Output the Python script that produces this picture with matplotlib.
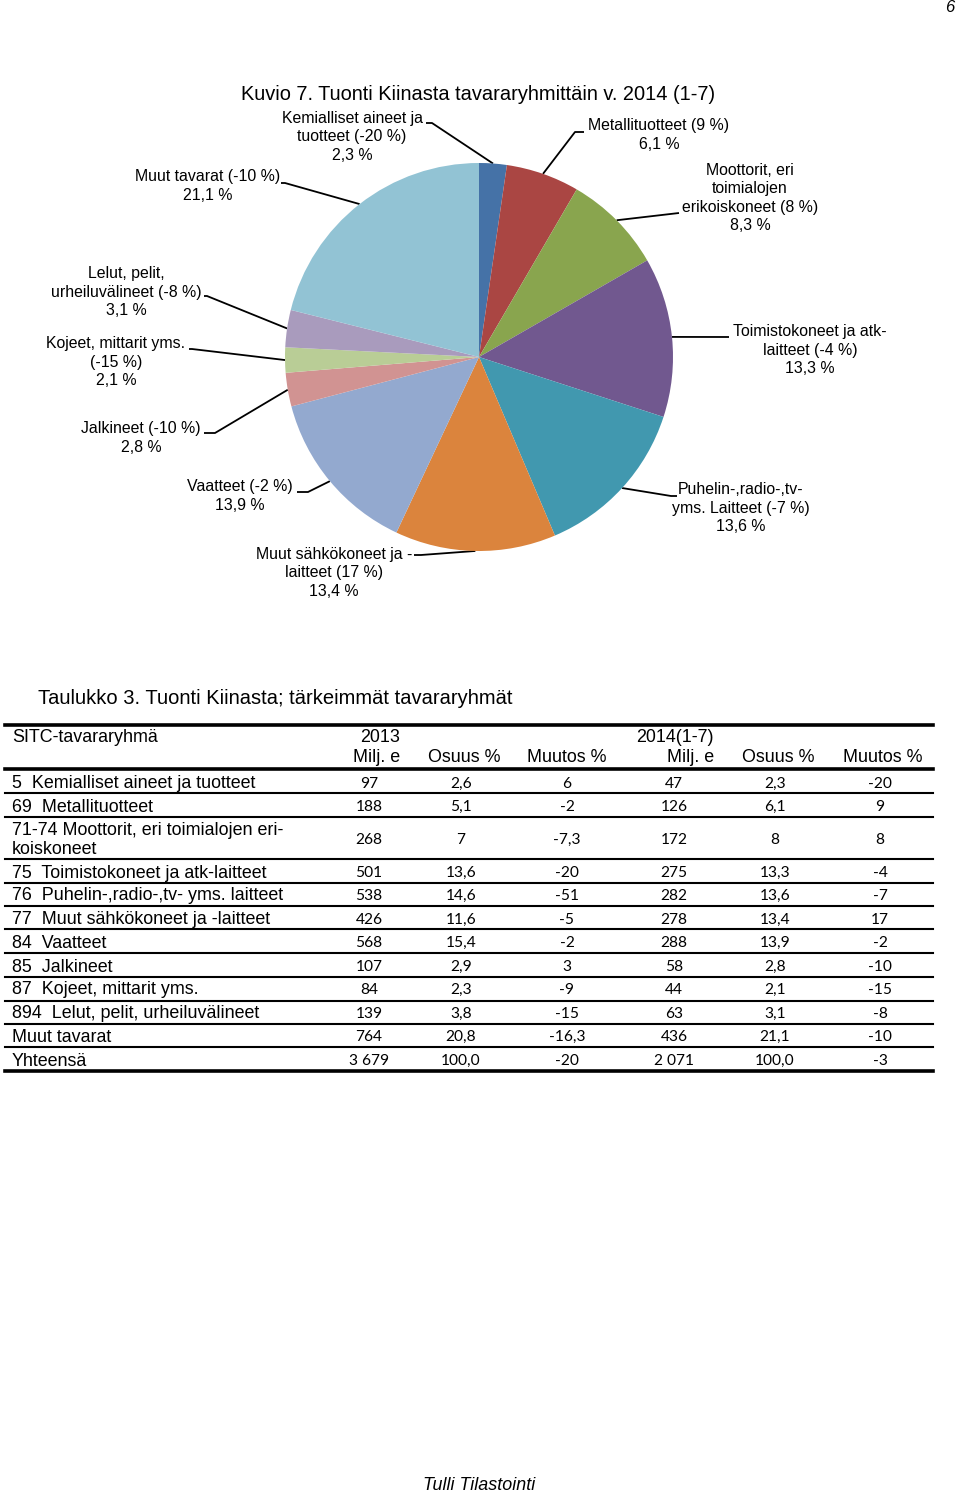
import numpy as np
import matplotlib
matplotlib.use("Agg")
import matplotlib.pyplot as plt

# ---------------------------------------------------------------
# Datos: tabla 3 (Tuonti Kiinasta; tärkeimmät tavararyhmät)
# ---------------------------------------------------------------
rivit = ["5  Kemialliset aineet ja tuotteet",
         "69  Metallituotteet",
         "71-74 Moottorit, eri toimialojen eri-\nkoiskoneet",
         "75  Toimistokoneet ja atk-laitteet",
         "76  Puhelin-,radio-,tv- yms. laitteet",
         "77  Muut sähkökoneet ja -laitteet",
         "84  Vaatteet",
         "85  Jalkineet",
         "87  Kojeet, mittarit yms.",
         "894  Lelut, pelit, urheiluvälineet",
         "Muut tavarat",
         "Yhteensä"]
milj_2013 = ["97", "188", "268", "501", "538", "426", "568", "107", "84", "139", "764", "3 679"]
osuus_2013 = ["2,6", "5,1", "7", "13,6", "14,6", "11,6", "15,4", "2,9", "2,3", "3,8", "20,8", "100,0"]
muutos_2013 = ["6", "-2", "-7,3", "-20", "-51", "-5", "-2", "3", "-9", "-15", "-16,3", "-20"]
milj_2014 = ["47", "126", "172", "275", "282", "278", "288", "58", "44", "63", "436", "2 071"]
osuus_2014 = ["2,3", "6,1", "8", "13,3", "13,6", "13,4", "13,9", "2,8", "2,1", "3,1", "21,1", "100,0"]
muutos_2014 = ["-20", "9", "8", "-4", "-7", "17", "-2", "-10", "-15", "-8", "-10", "-3"]

# Kuvio 7: osuudet (%) ja etiquetas de los sectores (mismo orden que la tabla)
valores_pie = [2.3, 6.1, 8.3, 13.3, 13.6, 13.4, 13.9, 2.8, 2.1, 3.1, 21.1]
etiquetas_pie = ["Kemialliset aineet ja\ntuotteet (-20 %)",
                 "Metallituotteet (9 %)",
                 "Moottorit, eri\ntoimialojen\nerikoiskoneet (8 %)",
                 "Toimistokoneet ja atk-\nlaitteet (-4 %)",
                 "Puhelin-,radio-,tv-\nyms. Laitteet (-7 %)",
                 "Muut sähkökoneet ja -\nlaitteet (17 %)",
                 "Vaatteet (-2 %)",
                 "Jalkineet (-10 %)",
                 "Kojeet, mittarit yms.\n(-15 %)",
                 "Lelut, pelit,\nurheiluvälineet (-8 %)",
                 "Muut tavarat (-10 %)"]

colores = ['#4572A7', '#AA4643', '#89A54E', '#71588F', '#4198AF', '#DB843D',
           '#93A9CF', '#D19392', '#B9CD96', '#A99BBD', '#92C3D4']

# ---------------------------------------------------------------
# Layout (píxeles)
# ---------------------------------------------------------------
W, H = 960, 1495
cx, cy, R = 479, 357, 194

# centro del bloque de texto y quiebre de la línea guía
pos_texto = [(352, 137), (659, 135), (750, 198), (810, 350), (741, 508), (334, 573),
             (240, 496), (141, 438), (116, 362), (126, 292), (208, 186)]
quiebres = [[(432, 123), (426, 123)], [(575, 132), (584, 132)], [(679, 213)],
            [(729, 337)], [(671, 496), (677, 496)], [(421, 555), (414, 555)],
            [(308, 492), (297, 492)], [(215, 433), (204, 433)], [(192, 349), (189, 349)],
            [(207, 296), (204, 296)], [(285, 183), (281, 183)]]

fig = plt.figure(figsize=(W / 100, H / 100), dpi=100)
ax = fig.add_axes([0, 0, 1, 1])
ax.set_xlim(0, W)
ax.set_ylim(H, 0)
ax.axis('off')

ax_pie = fig.add_axes([(cx - R) / W, 1 - (cy + R) / H, 2 * R / W, 2 * R / H])
ax_pie.pie(valores_pie, colors=colores, startangle=90, counterclock=False,
           radius=1, wedgeprops=dict(linewidth=0))
ax_pie.set_xlim(-1, 1)
ax_pie.set_ylim(-1, 1)
ax_pie.set_aspect('auto')
ax_pie.axis('off')

fuente = 'Liberation Sans'
ax.text(W - 6, 8, "6", fontsize=12, style='italic', family=fuente, ha='right', va='center')
ax.text(478, 95, "Kuvio 7. Tuonti Kiinasta tavararyhmittäin v. 2014 (1-7)",
        fontsize=14.4, family=fuente, ha='center', va='center')

# lineas guia + etiquetas
acum = np.cumsum([0] + valores_pie)
total = acum[-1]
for i, lab in enumerate(etiquetas_pie):
    medio = (acum[i] + acum[i + 1]) / 2 / total * 2 * np.pi
    px = cx + R * np.sin(medio)
    py = cy - R * np.cos(medio)
    pts = [(px, py)] + quiebres[i]
    ax.plot([p[0] for p in pts], [p[1] for p in pts], color='black', lw=1.3,
            solid_capstyle='butt')
    tx, ty = pos_texto[i]
    share = f"{valores_pie[i]:.1f}".replace('.', ',') + " %"
    ax.text(tx, ty, lab + "\n" + share, fontsize=11.4, family=fuente,
            ha='center', va='center', multialignment='center', linespacing=1.27)

# ---------------------------------------------------------------
# Tabla
# ---------------------------------------------------------------
ax.text(38, 698, "Taulukko 3. Tuonti Kiinasta; tärkeimmät tavararyhmät",
        fontsize=14.5, family=fuente, ha='left', va='center')

x0, x1 = 5, 933
ax.plot([x0, x1], [725, 725], color='black', lw=2.6)
ax.plot([x0, x1], [769, 769], color='black', lw=2.6)

fs_tab = 12.9
ax.text(12, 737, "SITC-tavararyhmä", fontsize=fs_tab, family=fuente, va='center')
ax.text(380, 737, "2013", fontsize=fs_tab, family=fuente, ha='center', va='center')
ax.text(675, 737, "2014(1-7)", fontsize=fs_tab, family=fuente, ha='center', va='center')
cab = [("Milj. e", 400, 'right'), ("Osuus %", 464, 'center'), ("Muutos %", 567, 'center'),
       ("Milj. e", 714, 'right'), ("Osuus %", 778, 'center'), ("Muutos %", 883, 'center')]
for t, x, ha in cab:
    ax.text(x, 757, t, fontsize=fs_tab, family=fuente, ha=ha, va='center')

centros_y = [783, 806, 839, 872, 895, 919, 942, 966, 989, 1013, 1036, 1060]
separadores = [793, 817, 859, 883, 906, 929, 953, 977, 1001, 1024, 1047]
cols_x = [369, 461, 567, 674, 775, 880]
fuente_num = 'Lato'
for i, nombre in enumerate(rivit):
    y = centros_y[i]
    ax.text(12, y + 1, nombre, fontsize=fs_tab, family=fuente, va='center', linespacing=1.2)
    vals = [milj_2013[i], osuus_2013[i], muutos_2013[i], milj_2014[i], osuus_2014[i], muutos_2014[i]]
    for x, v in zip(cols_x, vals):
        ax.text(x, y + 1, v, fontsize=11.2, family=fuente_num, ha='center', va='center')
for y in separadores:
    ax.plot([x0, x1], [y, y], color='black', lw=1.5)
ax.plot([x0, x1], [1071, 1071], color='black', lw=2.6)

ax.text(479, 1486, "Tulli Tilastointi", fontsize=12.9, style='italic', family=fuente,
        ha='center', va='center')

plt.savefig('out.png', dpi=100)
